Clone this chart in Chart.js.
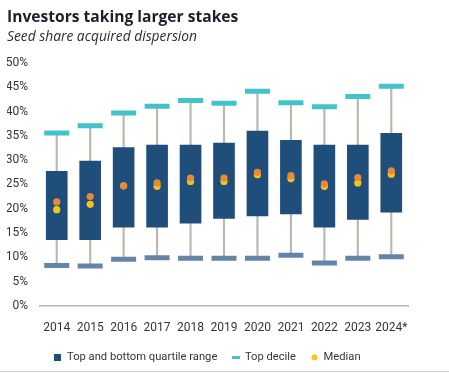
<!DOCTYPE html>
<html><head><meta charset="utf-8">
<script src="https://cdn.jsdelivr.net/npm/chart.js@4"></script>
<style>
html,body{margin:0;padding:0;background:#fff;}
#wrap{position:relative;width:449px;height:374px;}
#c{position:absolute;left:0;top:0;}
#line{position:absolute;left:0;top:371px;width:449px;height:1px;background:#cfcddb;}
#title{position:absolute;left:7px;top:5.6px;font:bold 15.6px/20px "Open Sans",sans-serif;color:#1d1d2c;white-space:nowrap;}
#sub{position:absolute;left:7px;top:27px;font:italic 13.8px/18px "Open Sans",sans-serif;color:#2b2b3a;white-space:nowrap;}
</style></head>
<body>
<div id="wrap"><canvas id="c" width="449" height="374"></canvas>
<div id="title">Investors taking larger stakes</div>
<div id="sub">Seed share acquired dispersion</div>
<div id="line"></div></div>
<script>
const years = ['2014','2015','2016','2017','2018','2019','2020','2021','2022','2023','2024*'];
const topDecile    = [35.6, 37.1, 39.7, 41.1, 42.3, 41.7, 44.2, 41.8, 41.0, 43.1, 45.2];
const upperQuartile= [27.7, 29.8, 32.6, 33.1, 33.1, 33.5, 36.0, 34.1, 33.1, 33.1, 35.5];
const lowerQuartile= [13.6, 13.6, 16.2, 16.2, 17.0, 18.0, 18.5, 18.9, 16.2, 17.8, 19.3];
const bottomDecile = [8.3, 8.2, 9.6, 9.9, 9.8, 9.8, 9.8, 10.4, 8.8, 9.8, 10.1];
const meanValues   = [21.4, 22.5, 24.7, 25.3, 26.3, 26.3, 27.5, 26.8, 25.1, 26.4, 27.8];
const medianValues = [19.8, 20.9, 24.7, 24.6, 25.6, 25.6, 27.0, 26.2, 24.6, 25.3, 27.1];
const yTicks = [0,5,10,15,20,25,30,35,40,45,50];

const C = {box:'#1f4e7b', top:'#42c3c9', bot:'#6585a8', whisk:'#bcb8ad', orange:'#e98a3a', yellow:'#f6c419', text:'#34343f', axis:'#b9b6ad'};
const FONT = 'Roboto, Lato, sans-serif';

function marker(w,h,draw){const c=document.createElement('canvas');c.width=w;c.height=h;const x=c.getContext('2d');draw(x);return c;}
const mBox = marker(7,7,x=>{x.fillStyle=C.box;x.fillRect(0,0,7,7);});
const mTop = marker(8,3,x=>{x.fillStyle=C.top;x.fillRect(0,0,8,3);});
const mMed = marker(7,7,x=>{x.fillStyle=C.yellow;x.beginPath();x.arc(3.5,3.5,3,0,Math.PI*2);x.fill();});

const whiskers = years.map((y,i)=>[bottomDecile[i], topDecile[i]]);
const boxes = years.map((y,i)=>[lowerQuartile[i], upperQuartile[i]]);

const canvas = document.getElementById('c');
const ctx = canvas.getContext('2d');
ctx.letterSpacing = '-1.1px';

new Chart(ctx, {
  type:'bar',
  data:{labels:years, datasets:[
    {label:'Whisker', data:whiskers, backgroundColor:C.whisk, barThickness:1.5, grouped:false, order:6},
    {label:'Top and bottom quartile range', data:boxes, backgroundColor:C.box, barThickness:21, grouped:false, order:5},
    {type:'line', label:'Top decile', data:topDecile, showLine:false, pointStyle:'line', pointRadius:12.5, pointBorderWidth:5, pointBorderColor:C.top, pointBackgroundColor:C.top, order:4},
    {type:'line', label:'Bottom decile', data:bottomDecile, showLine:false, pointStyle:'line', pointRadius:12.5, pointBorderWidth:5, pointBorderColor:C.bot, pointBackgroundColor:C.bot, order:3},
    {type:'line', label:'Median', data:medianValues, showLine:false, pointStyle:'circle', pointRadius:3.6, pointBorderWidth:0, pointBackgroundColor:C.yellow, order:2},
    {type:'line', label:'Mean', data:meanValues, showLine:false, pointStyle:'circle', pointRadius:3.6, pointBorderWidth:0, pointBackgroundColor:C.orange, order:1}
  ]},
  options:{
    responsive:false, animation:false, events:[],
    layout:{padding:{left:7, right:41, top:63, bottom:1}},
    plugins:{
      tooltip:{enabled:false},
      title:{display:false},
      legend:{position:'bottom', align:'center',
        labels:{usePointStyle:true, boxWidth:7, boxHeight:7, padding:15, color:C.text, font:{family:FONT, size:11.2},
          generateLabels:()=>[
            {text:'Top and bottom quartile range', pointStyle:mBox, fillStyle:C.box, strokeStyle:C.box, lineWidth:0, datasetIndex:1, fontColor:C.text},
            {text:'Top decile', pointStyle:mTop, fillStyle:C.top, strokeStyle:C.top, lineWidth:0, datasetIndex:2, fontColor:C.text},
            {text:'Median', pointStyle:mMed, fillStyle:C.yellow, strokeStyle:C.yellow, lineWidth:0, datasetIndex:4, fontColor:C.text}
          ]}}
    },
    scales:{
      x:{grid:{display:false, drawTicks:false}, border:{display:true, color:C.axis, width:1.5},
        ticks:{color:C.text, font:{family:FONT, size:12}, padding:15, maxRotation:0, minRotation:0, autoSkip:false},
        afterFit:s=>{s.height=31;}},
      y:{min:0, max:50, afterBuildTicks:s=>{s.ticks=yTicks.map(v=>({value:v}));},
        grid:{display:false, drawTicks:false}, border:{display:false},
        ticks:{color:C.text, font:{family:FONT, size:12}, padding:12, callback:v=>v+'%'},
        afterFit:s=>{s.width=33;}}
    }
  }
});
</script>
</body></html>
